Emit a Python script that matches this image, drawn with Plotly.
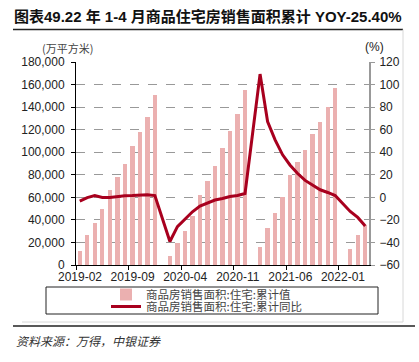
import plotly.graph_objects as go

# ---- data ----
months = [f"{y}-{m:02d}" for y in (2019, 2020, 2021, 2022) for m in range(1, 13)]
months = months[months.index("2019-02"):months.index("2022-04") + 1]

area = [12660, 26200, 37450, 49240, 66950, 78200, 89950, 105350, 118000, 131300, 150800,
        None, 7960, 19900, 30380, 43650, 61950, 74350, 87900, 103850, 118900, 133950, 155150,
        None, 16200, 32400, 45700, 60450, 79900, 91200, 102350, 116250, 126850, 139850, 156650,
        None, 14150, 26800, 35070]

yoy = [-3.4, -0.2, 1.6, -0.1, -0.1, 0.8, 1.4, 1.6, 2.0, 2.3, 1.6,
       None, -39.2, -26.0, -19.3, -12.8, -7.8, -5.1, -2.4, -1.0, 0.8, 1.6, 3.4,
       None, 109.3, 67.2, 50.9, 37.7, 28.5, 21.1, 15.0, 10.5, 6.7, 4.3, 1.6,
       None, -12.5, -17.8, -25.4]

tick_labels = ["2019-02", "2019-09", "2020-04", "2020-11", "2021-06", "2022-01"]

name_bar = "商品房销售面积:住宅:累计值"
name_line = "商品房销售面积:住宅:累计同比"
title = "<b>图表49.22 年 1-4 月商品住宅房销售面积累计 YOY-25.40%</b>"
source = "<i>资料来源：万得，中银证券</i>"

x = [i + 0.5 for i in range(len(months))]
tickvals = [months.index(t) for t in tick_labels]

BAR = "#EBB0B0"
LINE = "#A8001E"
FONT = "Liberation Sans, Noto Sans CJK SC, sans-serif"
CJK = "Noto Sans CJK SC, sans-serif"

fig = go.Figure()
fig.add_trace(go.Bar(x=x, y=area, name=name_bar, marker=dict(color=BAR, line=dict(width=0)),
                     width=0.58, yaxis="y", legend="legend"))
fig.add_trace(go.Scatter(x=x, y=yoy, name=name_line, mode="lines", connectgaps=True,
                         line=dict(color=LINE, width=3), yaxis="y2", legend="legend2"))

W, H = 419, 362
L, R, T, B = 76, 369, 62, 265


def px(v):
    return (v - L) / (R - L)


def py(v):
    return (B - v) / (B - T)


leg_common = dict(orientation="v", xanchor="left", yanchor="middle",
                  font=dict(family=CJK, size=11.5, color="#444"), bgcolor="rgba(0,0,0,0)",
                  borderwidth=0, itemwidth=30)

fig.update_layout(
    width=W, height=H,
    margin=dict(l=L, r=W - R, t=T, b=H - B, pad=0, autoexpand=False),
    paper_bgcolor="white", plot_bgcolor="white",
    font=dict(family=FONT, size=12, color="#222"),
    showlegend=True,
    legend=dict(x=px(106), y=py(294.5), **leg_common),
    legend2=dict(x=px(106), y=py(306.5), **leg_common),
    xaxis=dict(range=[0, len(months)], tickmode="array", tickvals=tickvals, ticktext=tick_labels,
               showgrid=False, zeroline=False, showline=True, linecolor="#000", linewidth=1,
               ticks="outside", ticklen=4, tickcolor="#000", ticklabelstandoff=-3,
               ticklabelshift=4,
               tickfont=dict(family=FONT, size=12, color="#222")),
    yaxis=dict(range=[0, 180000], dtick=20000, tickformat=",", showgrid=True,
               gridcolor="#999", griddash="dash", gridwidth=1, zeroline=False,
               showline=True, linecolor="#000", linewidth=1, ticks="outside", ticklen=4,
               tickcolor="#000", ticklabelstandoff=4,
               tickfont=dict(family=FONT, size=12, color="#222")),
    yaxis2=dict(range=[-60, 120], dtick=20, overlaying="y", side="right", showgrid=False,
                zeroline=False, showline=True, linecolor="#999", linewidth=2, ticks="outside",
                ticklen=4, tickcolor="#999", ticklabelstandoff=2,
                tickfont=dict(family=FONT, size=12, color="#222")),
    bargap=0,
)

shapes = [
    # title underline
    dict(type="line", xref="paper", yref="paper", x0=px(13), x1=px(403), y0=py(29.5), y1=py(29.5),
         line=dict(color="#222", width=1.5)),
    # right frame
    dict(type="line", xref="paper", yref="paper", x0=px(403), x1=px(403), y0=py(29.5), y1=py(322),
         line=dict(color="#d8d8d8", width=1)),
    # bottom frame
    dict(type="line", xref="paper", yref="paper", x0=px(22), x1=px(403), y0=py(322), y1=py(322),
         line=dict(color="#d8d8d8", width=1)),
    # footer top line
    dict(type="line", xref="paper", yref="paper", x0=px(13), x1=px(415), y0=py(326), y1=py(326),
         line=dict(color="#222", width=1.5)),
    # legend box
    dict(type="rect", xref="paper", yref="paper", x0=px(46), x1=px(378), y0=py(287), y1=py(314),
         line=dict(color="#222", width=1)),
]

annotations = [
    dict(text=title, xref="paper", yref="paper", x=px(12), y=py(17), xanchor="left",
         yanchor="middle", showarrow=False, font=dict(family=FONT, size=15, color="#111")),
    dict(text="(万平方米)", xref="paper", yref="paper", x=px(40), y=py(48), xanchor="left",
         yanchor="middle", showarrow=False, font=dict(family=CJK, size=11, color="#444")),
    dict(text="(%)", xref="paper", yref="paper", x=px(386), y=py(47), xanchor="right",
         yanchor="middle", showarrow=False, font=dict(family=FONT, size=12, color="#222")),
    dict(text=source, xref="paper", yref="paper", x=px(14), y=py(340), xanchor="left",
         yanchor="middle", showarrow=False, font=dict(family=CJK, size=12, color="#333")),
]
fig.update_layout(shapes=shapes, annotations=annotations)

fig.write_html("out.html", config={"displayModeBar": False},
               post_script="document.body.style.margin='0';document.body.style.padding='0';")
